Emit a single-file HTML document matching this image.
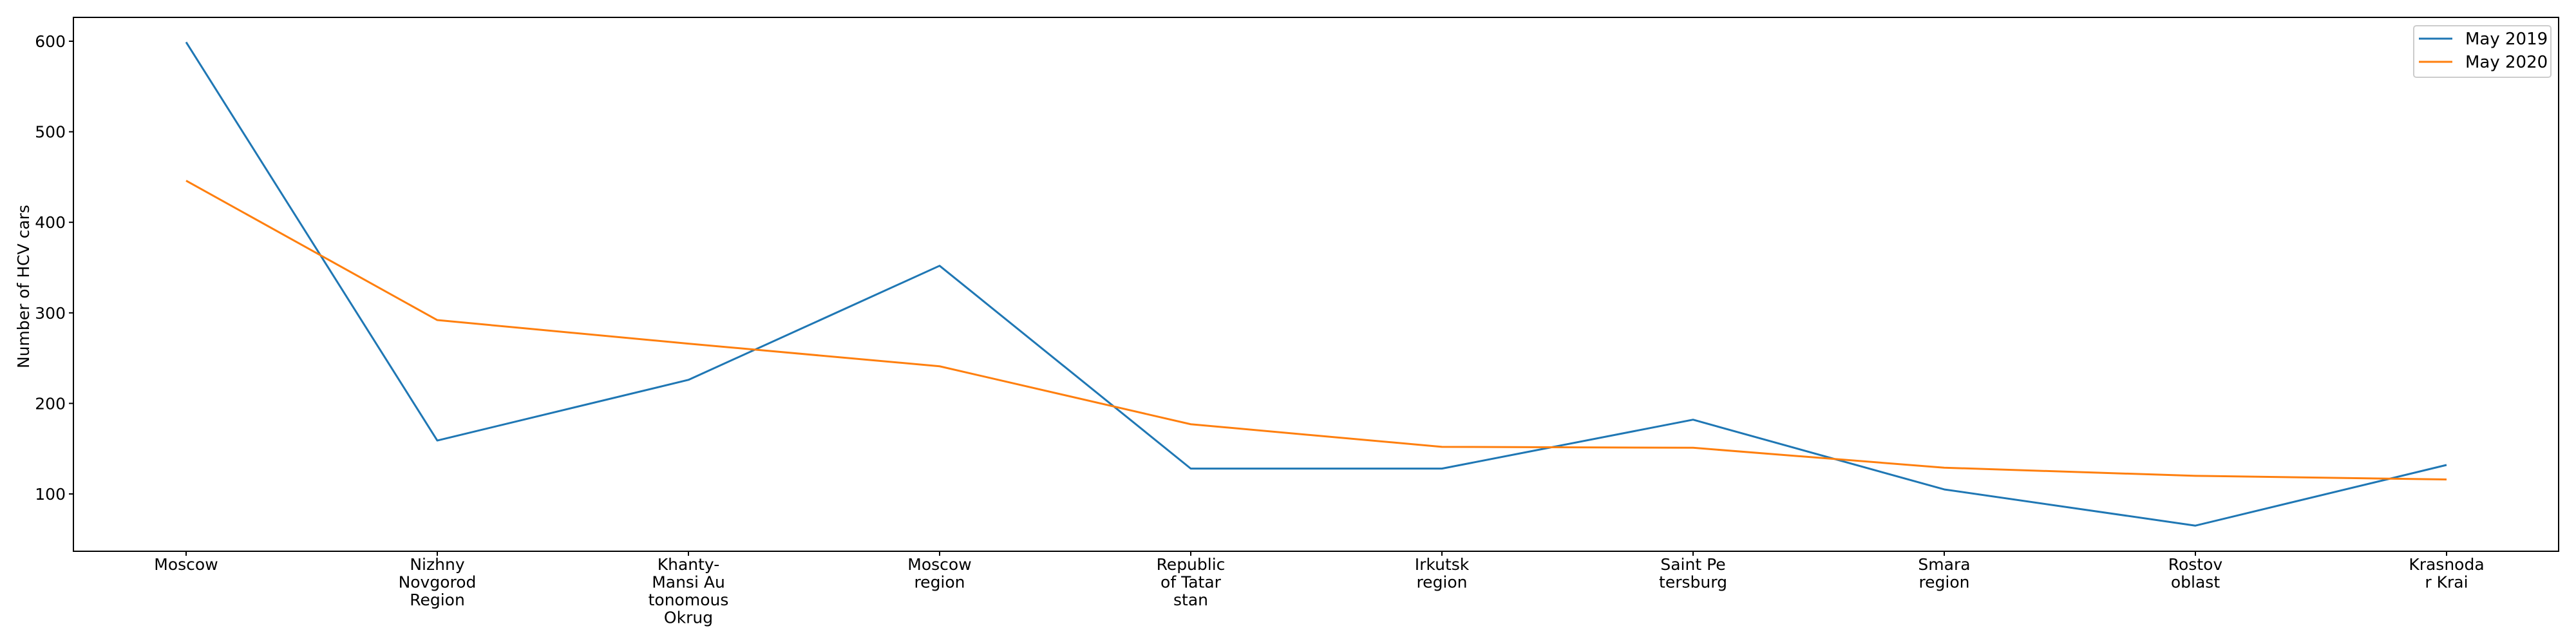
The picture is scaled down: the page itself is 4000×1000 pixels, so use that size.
<!DOCTYPE html>
<html><head><meta charset="utf-8"><style>
html,body{margin:0;padding:0;background:#fff;}
svg{display:block;font-family:"DejaVu Sans","Liberation Sans",sans-serif;}
</style></head><body>
<svg id="chart" width="4000" height="1000" viewBox="0 0 4000 1000">
<rect x="0" y="0" width="4000" height="1000" fill="#fff"/>
<g id="plot"></g>
<rect x="114" y="27" width="3859" height="829" fill="none" stroke="#000" stroke-width="2"/>
<text x="0" y="0" transform="translate(45,445) rotate(-90)" text-anchor="middle" font-size="25">Number of HCV cars</text>
<g>
<rect x="3748" y="40" width="213" height="80" rx="4" fill="#fff" stroke="#ccc" stroke-width="2"/>
<line x1="3756" y1="60" x2="3808" y2="60" stroke="#1f77b4" stroke-width="3"/>
<text x="3828" y="69" font-size="26">May 2019</text>
<line x1="3756" y1="96" x2="3808" y2="96" stroke="#ff7f0e" stroke-width="3"/>
<text x="3828" y="105" font-size="26">May 2020</text>
</g>
</svg>
<script>
const categories = [["Moscow"],["Nizhny","Novgorod","Region"],["Khanty-","Mansi Au","tonomous","Okrug"],["Moscow","region"],["Republic","of Tatar","stan"],["Irkutsk","region"],["Saint Pe","tersburg"],["Smara","region"],["Rostov","oblast"],["Krasnoda","r Krai"]];
const may2019 = [599, 159, 226, 352, 128, 128, 182, 105, 65, 132];
const may2020 = [446, 292, 266, 241, 177, 152, 151, 129, 120, 116];
const yTicks = [100, 200, 300, 400, 500, 600];

const NS = "http://www.w3.org/2000/svg";
const svg = document.getElementById("chart");
const plot = document.getElementById("plot");
const x0 = 289, dx = 390;
function xScale(i){ return x0 + i*dx; }
function yScale(v){ return 767 - (v-100)*1.406; }

yTicks.forEach(function(t){
  const y = yScale(t);
  const tk = document.createElementNS(NS,"line");
  tk.setAttribute("x1",107); tk.setAttribute("x2",114);
  tk.setAttribute("y1",y); tk.setAttribute("y2",y);
  tk.setAttribute("stroke","#000"); tk.setAttribute("stroke-width","2");
  
  
  svg.appendChild(tk);
  const tx = document.createElementNS(NS,"text");
  tx.setAttribute("x",102); tx.setAttribute("y",y+9);
  tx.setAttribute("text-anchor","end"); tx.setAttribute("font-size","25");
  tx.textContent = t;
  
  
  svg.appendChild(tx);
});

categories.forEach(function(lines,i){
  const x = xScale(i);
  const tk = document.createElementNS(NS,"line");
  tk.setAttribute("x1",x); tk.setAttribute("x2",x);
  tk.setAttribute("y1",856); tk.setAttribute("y2",863);
  tk.setAttribute("stroke","#000"); tk.setAttribute("stroke-width","2");
  
  
  svg.appendChild(tk);
  const tx = document.createElementNS(NS,"text");
  tx.setAttribute("text-anchor","middle"); tx.setAttribute("font-size","25");
  lines.forEach(function(l,j){
    const ts = document.createElementNS(NS,"tspan");
    ts.setAttribute("x",x); ts.setAttribute("y",885 + j*27.5);
    ts.textContent = l;
    tx.appendChild(ts);
  });
  
  
  svg.appendChild(tx);
});

function drawLine(vals,color,name){
  const pl = document.createElementNS(NS,"polyline");
  pl.setAttribute("points", vals.map(function(v,i){return xScale(i)+","+yScale(v);}).join(" "));
  pl.setAttribute("fill","none"); pl.setAttribute("stroke",color);
  pl.setAttribute("stroke-width","3"); pl.setAttribute("stroke-linejoin","round");
  
  
  plot.appendChild(pl);
}
drawLine(may2019,"#1f77b4","series-may-2019");
drawLine(may2020,"#ff7f0e","series-may-2020");
</script>
</body></html>
